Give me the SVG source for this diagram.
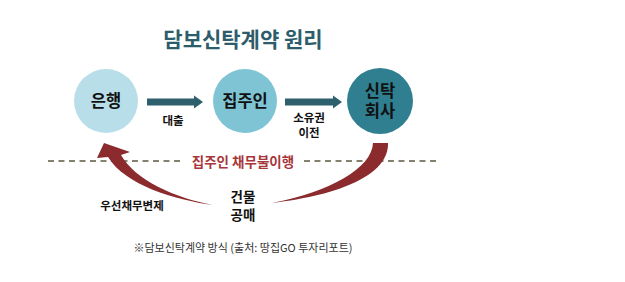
<svg xmlns="http://www.w3.org/2000/svg" width="625" height="282" viewBox="0 0 625 282">
<style>
text{font-family:"Noto Sans CJK KR","Noto Sans",sans-serif;text-anchor:middle;font-weight:bold;fill:#111}
.title{font-size:21px;fill:#2d5d6b}
.node{font-size:16.5px}
.lbl{font-size:11.5px}
.mid{font-size:13.5px}
.red{font-size:13.5px;fill:#a8353a}
.note{font-size:11px;font-weight:normal;fill:#333}
.dash{stroke:#5c5a40;stroke-width:1.3;stroke-dasharray:6 4.5;fill:none}
.swoosh{fill:#8b2b2e}
</style>
<rect width="625" height="282" fill="#fff"/>
<text class="title" x="243" y="47">담보신탁계약 원리</text>
<g id="bank">
<circle cx="106" cy="101" r="32" fill="#b8dfe9"/>
<text class="node" x="106" y="107">은행</text>
</g>
<g id="owner">
<circle cx="245" cy="101" r="32" fill="#7ec4d5"/>
<text class="node" x="245" y="107">집주인</text>
</g>
<g id="trust">
<circle cx="380" cy="101" r="33" fill="#2f7f91"/>
<text class="node" x="380" y="97">신탁</text>
<text class="node" x="380" y="117">회사</text>
</g>
<g id="connectors">
<line x1="147" y1="102" x2="196" y2="102" stroke="#2e5f6c" stroke-width="7"/>
<path d="M194,95.5 L203,102 L194,108.5 Z" fill="#2e5f6c"/>
<line x1="285" y1="102" x2="334" y2="102" stroke="#2e5f6c" stroke-width="7"/>
<path d="M333,95.5 L342,102 L333,108.5 Z" fill="#2e5f6c"/>
<line class="dash" x1="48" y1="161" x2="180" y2="161"/>
<line class="dash" x1="304" y1="161" x2="436" y2="161"/>
<path class="swoosh" d="M213,205 C175,200 125,185 108,157 L97,158 L104,143 L130,152 L121,155 C135,180 175,198 213,205 Z"/>
<path class="swoosh" d="M272,203 C340,195 389,175 388,143 L373,143 C372,168 330,192 272,203 Z"/>
</g>
<text class="lbl" x="173" y="125">대출</text>
<text class="lbl" x="309" y="122">소유권</text>
<text class="lbl" x="309" y="137">이전</text>
<text class="red" x="243" y="167">집주인 채무불이행</text>
<text class="lbl" x="132" y="210">우선채무변제</text>
<text class="mid" x="243" y="202">건물</text>
<text class="mid" x="243" y="220">공매</text>
<text class="note" x="243" y="252">※담보신탁계약 방식 (출처: 땅집GO 투자리포트)</text>
</svg>
